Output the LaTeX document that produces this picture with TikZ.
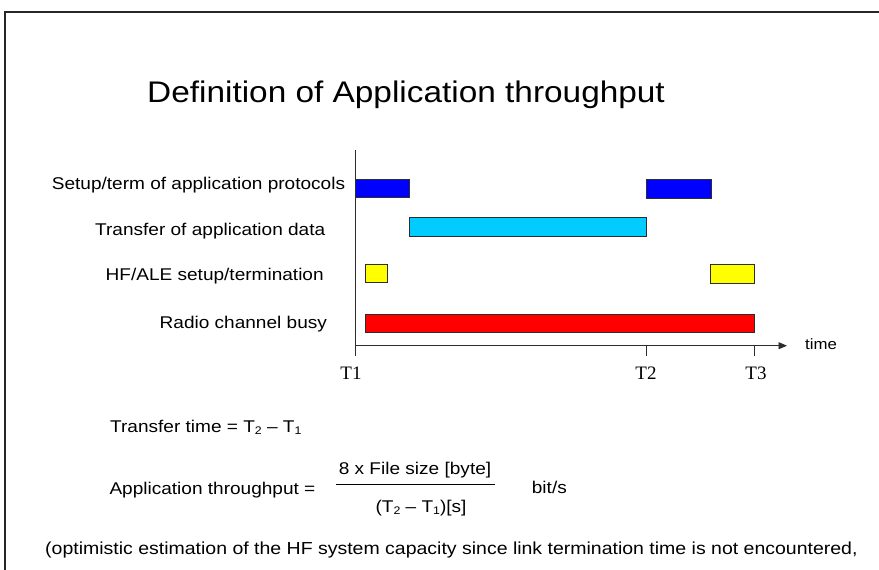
\documentclass[tikz,border=0pt]{standalone}
\usepackage{fontspec}
\setmainfont{Liberation Sans}[FakeStretch=1.12]
\newfontfamily\tfont{Liberation Serif}
\usetikzlibrary{arrows.meta}

\definecolor{setupblue}{RGB}{0,0,255}
\definecolor{datacyan}{RGB}{0,204,255}
\definecolor{aleyellow}{RGB}{255,255,0}
\definecolor{busyred}{RGB}{255,0,0}
\definecolor{edgegray}{RGB}{45,45,45}

% lowered small index digit
\newcommand{\idx}[1]{\raisebox{-0.3ex}{\fontsize{11}{12}\selectfont #1}}

\begin{document}
\begin{tikzpicture}[x=1pt,y=-1pt,
  bar/.style={draw=edgegray, line width=0.9pt, inner sep=0pt, anchor=north west},
  txt/.style={inner sep=0pt, anchor=base west, font=\fontsize{17}{20}\selectfont},
  tlabel/.style={inner sep=0pt, anchor=base, font=\tfont\fontsize{19}{22}\selectfont},
  axis/.style={draw=edgegray, line width=0.9pt},
  frame/.style={draw=black!85, line width=1.8pt}]
\useasboundingbox (0,0) rectangle (879,570);

% page frame, open to the right and bottom
\coordinate (fr1) at (5,570);
\coordinate (fr2) at (5,12);
\coordinate (fr3) at (879,12);
\draw[frame] (fr1) -- (fr2) -- (fr3);

% title
\node[inner sep=0pt, anchor=base west, font=\fontsize{29.8}{34}\selectfont] (title) at (147,102.7) {Definition of Application throughput};

% axes
\coordinate (vtop) at (355,150);
\coordinate (orig) at (355,345.7);
\coordinate (vbot) at (355,356);
\coordinate (tip) at (787,345.7);
\draw[axis] (vtop) -- (vbot);
\draw[axis, -{Triangle[length=8.5pt, width=7pt]}] (orig) -- (tip);
\node[txt, anchor=west, font=\fontsize{15}{18}\selectfont] (time) at (805,344) {time};

% time ticks
\coordinate (t2top) at (646.3,345.7);
\coordinate (t2bot) at (646.3,356);
\coordinate (t3top) at (754.3,345.7);
\coordinate (t3bot) at (754.3,356);
\draw[axis] (t2top) -- (t2bot);
\draw[axis] (t3top) -- (t3bot);
\node[tlabel] (T1) at (351,379) {T1};
\node[tlabel] (T2) at (646,379) {T2};
\node[tlabel] (T3) at (756,379) {T3};

% activity rows
\node[txt] (l1) at (51.7,189) {Setup/term of application protocols};
\node[txt] (l2) at (95,235) {Transfer of application data};
\node[txt] (l3) at (105.5,280) {HF/ALE setup/termination};
\node[txt] (l4) at (159.5,328) {Radio channel busy};

\node[bar, fill=setupblue, minimum width=54.3pt, minimum height=18.7pt] (b1) at (354.7,178.5) {};
\node[bar, fill=setupblue, minimum width=64.7pt, minimum height=18.7pt] (b2) at (646,179) {};
\node[bar, fill=datacyan, minimum width=237.3pt, minimum height=18.7pt] (b3) at (409,217) {};
\node[bar, fill=aleyellow, minimum width=21.7pt, minimum height=18.7pt] (b4) at (365.3,263.5) {};
\node[bar, fill=aleyellow, minimum width=43.4pt, minimum height=18.7pt] (b5) at (710.3,264) {};
\node[bar, fill=busyred, minimum width=388.4pt, minimum height=18.7pt] (b6) at (365.3,313.5) {};

% formulas
\node[txt] (f1) at (110,432) {Transfer time = T\idx{2} – T\idx{1}};
\node[txt] (f2) at (109.3,494) {Application throughput =};
\node[txt, anchor=base] (num) at (415,474) {8 x File size [byte]};
\coordinate (fl) at (336,484.3);
\coordinate (fr) at (495,484.3);
\draw[line width=0.9pt] (fl) -- (fr);
\node[txt, anchor=base] (den) at (421,512) {(T\idx{2} – T\idx{1})[s]};
\node[txt] (unit) at (531.7,493) {bit/s};

\node[txt, font=\fontsize{17.4}{20}\selectfont] (note) at (45,554) {(optimistic estimation of the HF system capacity since link termination time is not encountered,};
\end{tikzpicture}
\end{document}
